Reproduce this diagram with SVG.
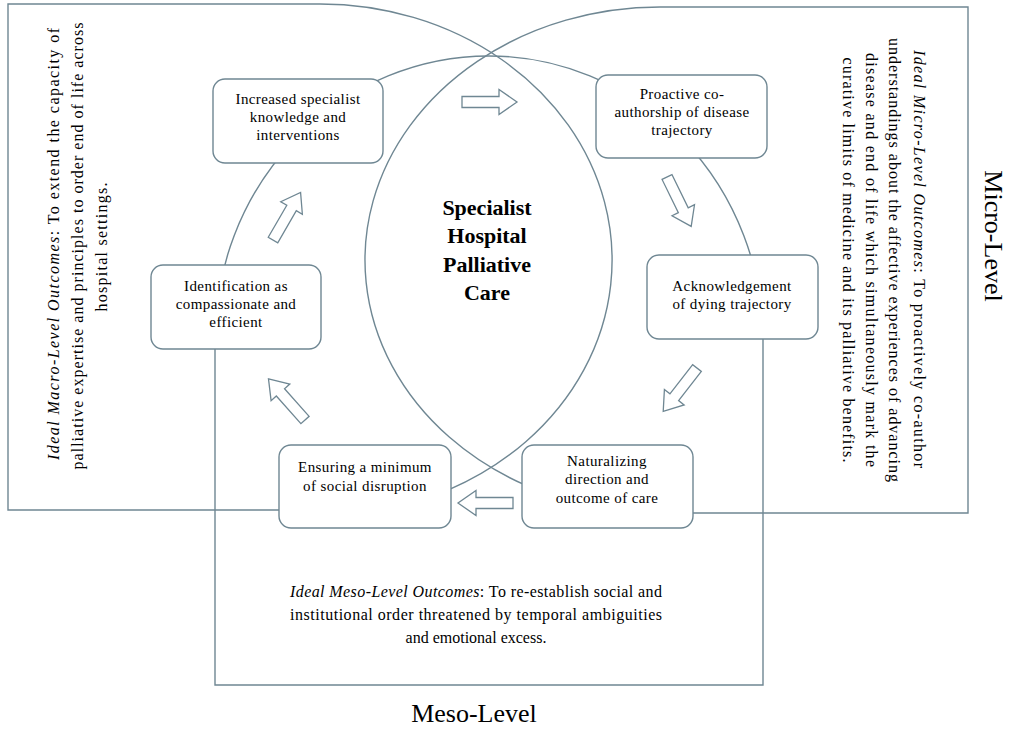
<svg xmlns="http://www.w3.org/2000/svg" width="1014" height="729" viewBox="0 0 1014 729">
<style>
.ln{fill:none;stroke:#6f8793;stroke-width:1.4}
.box{fill:#fff;stroke:#6f8793;stroke-width:1.4}
.bt{font-family:"Liberation Serif","Times New Roman",serif;font-size:15px;letter-spacing:0.4px;fill:#000;text-anchor:middle}
.ot{font-family:"Liberation Serif","Times New Roman",serif;font-size:16px;fill:#000;text-anchor:middle}
.it{font-style:italic}
.ttl{font-family:"Liberation Serif","Times New Roman",serif;font-size:22px;font-weight:bold;fill:#000;text-anchor:middle}
.lvl{font-family:"Liberation Serif","Times New Roman",serif;font-size:26px;fill:#000;text-anchor:middle}
.arr{fill:#fff;stroke:#6f8793;stroke-width:1.3}
</style>
<defs>
<path id="ba" d="M0,-5.5 H37 V-12.5 L55,0 L37,12.5 V5.5 H0 Z"/>
</defs>
<rect width="1014" height="729" fill="#fff"/>
<g id="regions">
<path id="macro-region" class="ln" d="M8,4 H320 A292,256 0 0 1 449,489.7 L449,510 H8 Z"/>
<path id="micro-region" class="ln" d="M968,7 H660 A295,253 0 0 0 526,485.4 L526,513 H968 Z"/>
<path id="meso-region" class="ln" d="M215,685 V340 A274,284 0 0 1 763,340 V685 Z"/>
</g>
<g id="macro-text">
<text class="ot" transform="translate(59,244) rotate(-90)" textLength="432"><tspan class="it">Ideal Macro-Level Outcomes</tspan>: To extend the capacity of</text>
<text class="ot" transform="translate(83,246) rotate(-90)" textLength="447">palliative expertise and principles to order end of life across</text>
<text class="ot" transform="translate(107,247) rotate(-90)" textLength="129">hospital settings.</text>
</g>
<g id="micro-text">
<text class="ot" transform="translate(914,259) rotate(90)" textLength="418"><tspan class="it">Ideal Micro-Level Outcomes</tspan>: To proactively co-author</text>
<text class="ot" transform="translate(889,260) rotate(90)" textLength="444">understandings about the affective experiences of advancing</text>
<text class="ot" transform="translate(866,260) rotate(90)" textLength="414">disease and end of life which simultaneously mark the</text>
<text class="ot" transform="translate(843,260) rotate(90)" textLength="405">curative limits of medicine and its palliative benefits.</text>
<text class="lvl" transform="translate(985,236) rotate(90)">Micro-Level</text>
</g>
<g id="meso-text">
<text class="ot" x="476" y="597" textLength="372"><tspan class="it">Ideal Meso-Level Outcomes</tspan>: To re-establish social and</text>
<text class="ot" x="476" y="620" textLength="372">institutional order threatened by temporal ambiguities</text>
<text class="ot" x="476" y="643">and emotional excess.</text>
<text class="lvl" x="474" y="722">Meso-Level</text>
</g>
<g id="center-title">
<text class="ttl" x="487" y="215">Specialist</text>
<text class="ttl" x="487" y="243">Hospital</text>
<text class="ttl" x="487" y="272">Palliative</text>
<text class="ttl" x="487" y="300">Care</text>
</g>
<g id="node-increased">
<rect class="box" x="213" y="79" width="170" height="84" rx="12"/>
<text class="bt" x="298" y="104">Increased specialist</text>
<text class="bt" x="298" y="122">knowledge and</text>
<text class="bt" x="298" y="140">interventions</text>
</g>
<g id="node-proactive">
<rect class="box" x="596" y="75" width="171" height="83" rx="12"/>
<text class="bt" x="682" y="99">Proactive co-</text>
<text class="bt" x="682" y="117">authorship of disease</text>
<text class="bt" x="682" y="135">trajectory</text>
</g>
<g id="node-acknowledgement">
<rect class="box" x="647" y="255" width="171" height="84" rx="12"/>
<text class="bt" x="732" y="291">Acknowledgement</text>
<text class="bt" x="732" y="309">of dying trajectory</text>
</g>
<g id="node-naturalizing">
<rect class="box" x="522" y="445" width="171" height="83" rx="12"/>
<text class="bt" x="607" y="466">Naturalizing</text>
<text class="bt" x="607" y="484">direction and</text>
<text class="bt" x="607" y="503">outcome of care</text>
</g>
<g id="node-ensuring">
<rect class="box" x="279" y="445" width="172" height="83" rx="12"/>
<text class="bt" x="365" y="472">Ensuring a minimum</text>
<text class="bt" x="365" y="491">of social disruption</text>
</g>
<g id="node-identification">
<rect class="box" x="151" y="265" width="170" height="84" rx="12"/>
<text class="bt" x="236" y="291">Identification as</text>
<text class="bt" x="236" y="309">compassionate and</text>
<text class="bt" x="236" y="327">efficient</text>
</g>
<g id="connectors">
<use href="#ba" class="arr" transform="translate(462,102)"/>
<use href="#ba" class="arr" transform="translate(667,177) rotate(63.9)"/>
<use href="#ba" class="arr" transform="translate(697,368) rotate(127.9)"/>
<use href="#ba" class="arr" transform="translate(513,503) rotate(180)"/>
<use href="#ba" class="arr" transform="translate(305,420) rotate(228.4)"/>
<use href="#ba" class="arr" transform="translate(273,240) rotate(-59.9)"/>
</g>
</svg>
